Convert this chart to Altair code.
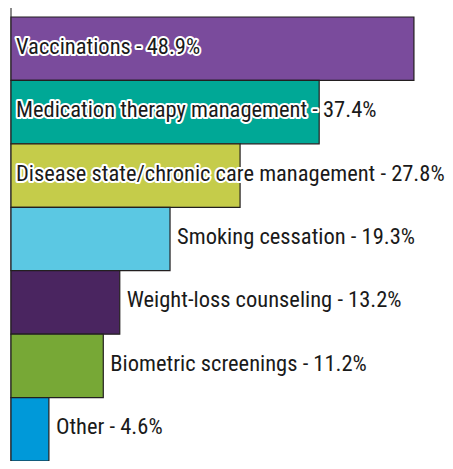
import altair as alt
import pandas as pd

categories = [
    "Vaccinations",
    "Medication therapy management",
    "Disease state/chronic care management",
    "Smoking cessation",
    "Weight-loss counseling",
    "Biometric screenings",
    "Other",
]
values = [48.9, 37.4, 27.8, 19.3, 13.2, 11.2, 4.6]
colors = ["#7a4b9c", "#00a896", "#c5cc4a", "#5bc8e3", "#4a2560", "#77a836", "#0099d9"]
inside = [True, True, True, False, False, False, False]

df = pd.DataFrame({
    "cat": categories,
    "v": values,
    "inside": inside,
    "label": [f"{c} - {v}%" for c, v in zip(categories, values)],
})

W, H = 434, 444
PT = 9
x = alt.X("v:Q", scale=alt.Scale(domain=[0, 52.67]), axis=None)
y = alt.Y("cat:N", sort=categories, axis=None,
          scale=alt.Scale(paddingInner=0, paddingOuter=0))
col = alt.Color("cat:N", scale=alt.Scale(domain=categories, range=colors), legend=None)

base = alt.Chart(df)

axis_line = base.mark_rule(color="#8a8a8a", strokeWidth=1.2).encode(
    x=alt.value(0), y=alt.value(-PT), y2=alt.value(H)
)

bars = base.mark_bar(stroke="#231f20", strokeWidth=1.2, opacity=1).encode(
    x=x, y=y, color=col
)

font = "Roboto Condensed, DejaVu Sans Condensed, Liberation Sans Narrow, Arial Narrow, Liberation Sans, sans-serif"
fs = 22.5

def text_layers(cond, xenc, dx):
    sub = base.transform_filter(cond)
    halo = sub.mark_text(align="left", baseline="middle", font=font, fontSize=fs,
                         dx=dx, dy=-2, fill="white", stroke="white", strokeWidth=4,
                         strokeJoin="round").encode(x=xenc, y=y, text="label:N")
    txt = sub.mark_text(align="left", baseline="middle", font=font, fontSize=fs,
                        dx=dx, dy=-2, fill="#1a1a1a").encode(x=xenc, y=y, text="label:N")
    return halo + txt

in_layers = text_layers(alt.datum.inside, alt.value(0), 5)
out_layers = text_layers(~alt.datum.inside, x, 7)

chart = alt.layer(axis_line, bars, in_layers, out_layers).properties(
    width=W, height=H,
    autosize=alt.AutoSizeParams(type="none"),
    padding={"left": 3, "top": PT, "right": 0, "bottom": 0},
).configure_view(stroke=None)

chart.save("out.html", embed_options={"renderer": "svg", "actions": False})
